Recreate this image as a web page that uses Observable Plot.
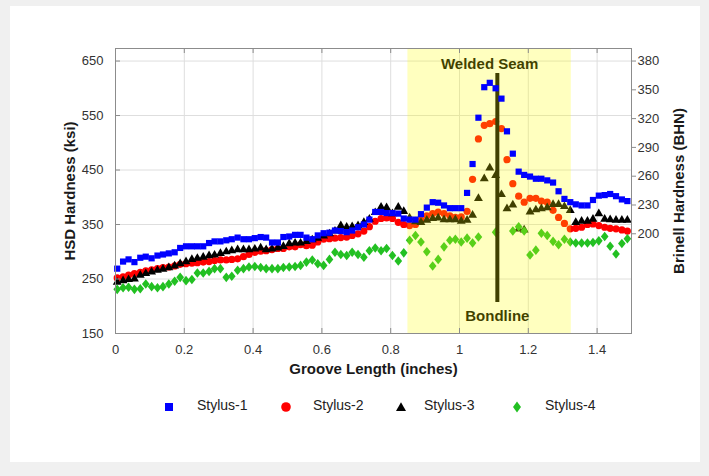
<!DOCTYPE html>
<html><head><meta charset="utf-8">
<script src="https://cdn.jsdelivr.net/npm/d3@7"></script>
<script src="https://cdn.jsdelivr.net/npm/@observablehq/plot@0.6"></script>
<style>
html,body{margin:0;padding:0;background:#f0f0f0;width:709px;height:476px;overflow:hidden;font-family:"Liberation Sans",Arial,sans-serif;}
#card{position:absolute;left:10px;top:6px;width:690px;height:456px;background:#fff;}
#chart{position:absolute;left:0;top:0;}
.leg{position:absolute;font-size:14px;color:#222;line-height:16px;white-space:nowrap;}
.sym{position:absolute;}
.ytitle{position:absolute;font-size:15px;font-weight:bold;color:#1a1a1a;white-space:nowrap;line-height:16px;transform:translate(-50%,-50%) rotate(-90deg);}
</style></head><body>
<div id="card"></div>
<div id="chart"></div>
<div id="legend"></div>
<div class="ytitle" id="yl"></div>
<div class="ytitle" id="yr"></div>
<script>
// Groove length positions (inches)
const xs = [0.005,0.022,0.038,0.055,0.072,0.088,0.105,0.122,0.138,0.155,0.172,0.188,0.205,0.222,0.238,0.255,0.272,0.288,
0.305,0.322,0.338,0.355,0.372,0.388,0.405,0.422,0.438,0.455,0.472,0.488,0.505,0.522,0.538,0.555,0.572,0.588,
0.605,0.622,0.638,0.655,0.672,0.688,0.705,0.722,0.738,0.755,0.772,0.788,0.805,0.822,0.838,0.855,0.872,
0.888,0.905,0.922,0.938,0.955,0.972,0.988,1.005,1.022,1.038,1.055,1.072,1.088,1.105,1.122,1.138,1.155,1.172,1.188,
1.205,1.222,1.238,1.255,1.272,1.288,1.305,1.322,1.338,1.355,1.372,1.388,1.405,1.422,1.438,1.455,1.472,1.488];

// HSD hardness (ksi)
const stylus1 = [269,282,286,281,289,291,288,293,295,297,299,307,310,310,310,310,316,319,
319,321,323,326,323,323,325,327,326,317,317,327,328,331,331,326,323,330,
334,335,339,338,336,339,345,350,359,373,373,371,371,370,361,359,359,
369,381,391,390,385,380,380,380,408,461,546,602,610,600,581,521,480,447,441,
438,434,434,431,427,411,397,391,387,385,385,395,403,404,406,402,396,393];
const stylus2 = [252,254,257,260,262,265,267,269,271,272,274,277,278,279,280,281,282,284,
285,285,286,287,291,295,299,301,302,304,306,306,309,309,313,311,312,318,
323,324,325,326,327,330,333,338,346,356,361,362,361,354,350,348,350,
358,366,370,373,370,366,363,364,374,433,507,532,535,539,526,469,425,402,391,
398,398,393,391,376,363,352,342,343,345,350,351,348,345,343,342,340,338];
const stylus3 = [244,247,249,250,257,260,263,266,268,271,274,278,282,286,288,290,293,294,
297,300,302,304,304,304,305,307,304,305,307,310,315,316,316,319,322,325,
329,333,338,348,345,346,348,354,360,372,382,381,370,382,374,362,355,
354,358,361,362,359,359,359,356,358,367,398,434,454,440,405,379,386,342,340,
373,377,379,381,387,387,383,376,354,356,356,360,370,360,359,358,358,358];
const stylus4 = [231,234,235,231,232,241,236,234,236,241,246,253,247,249,261,261,264,269,
269,253,255,266,269,272,273,271,269,269,269,271,272,273,275,281,285,278,
275,286,299,295,293,299,295,290,302,307,302,306,293,283,298,321,330,
318,300,274,286,309,321,323,318,325,316,327,null,null,336,null,null,338,346,338,
294,303,334,330,319,313,323,318,316,316,316,317,320,328,310,296,315,324];

const seriesNames = ["Stylus-1","Stylus-2","Stylus-3","Stylus-4"];
const seriesColors = ["#0000ff","#ff0000","#000000","#22c022"];

const xTicks = [0,0.2,0.4,0.6,0.8,1,1.2,1.4];
const yTicks = [150,250,350,450,550,650];
const bhnTicks = [200,230,260,290,320,350,380];
const xDomain = [0,1.5];
const yDomain = [150,673];

const titles = {x:"Groove Length (inches)", yLeft:"HSD Hardness (ksi)", yRight:"Brinell Hardness (BHN)"};

// Annotations
const weldBand = [{x1:0.85, x2:1.325, label:"Welded Seam"}];
const bondline = [{x:1.11, y1:207, y2:627, label:"Bondline"}];

// BHN <-> ksi mapping of the right axis
const bhnToKsi = b => 333 + (b - 200) * 317 / 180;
const ksiToBhn = k => 200 + (k - 333) * 180 / 317;

const rowsOf = vals => xs.map((x,i)=>({x, y: vals[i]})).filter(d => d.y != null);

const diamondSym = {draw(ctx, size){ const h = Math.sqrt(size)*0.75, w = h*0.8;
  ctx.moveTo(0,-h); ctx.lineTo(w,0); ctx.lineTo(0,h); ctx.lineTo(-w,0); ctx.closePath(); }};

const W = 709, H = 380, ML = 115, MR = 78, MT = 48, MB = 47;
const FH = H - MT - MB, FW = W - ML - MR;
const axisGray = "#8c8c8c", labelColor = "#333";

const chart = Plot.plot({
  width: W, height: H, marginLeft: ML, marginRight: MR, marginTop: MT, marginBottom: MB,
  x: {domain: xDomain},
  y: {domain: yDomain},
  style: {background: "transparent", fontFamily: "'Liberation Sans', Arial, sans-serif", fontSize: "13px", color: labelColor, overflow: "visible"},
  marks: [
    Plot.gridX(xTicks, {stroke: "#dedede", strokeOpacity: 1}),
    Plot.gridY(yTicks, {stroke: "#dedede", strokeOpacity: 1}),
    Plot.dot(rowsOf(stylus2), {x:"x", y:"y", r:3.6, symbol:"circle", fill: seriesColors[1]}),
    Plot.dot(rowsOf(stylus3), {x:"x", y:"y", r:3.3, symbol:"triangle", fill: seriesColors[2]}),
    Plot.dot(rowsOf(stylus4), {x:"x", y:"y", r:3.6, symbol: diamondSym, fill: seriesColors[3]}),
    Plot.ruleX(bondline, {x:"x", y1:"y1", y2:"y2", stroke:"#000", strokeWidth:4}),
    Plot.text(weldBand, {x: d => (d.x1+d.x2)/2, text:"label", frameAnchor:"top", dy: 10, fontWeight:"bold", fontSize:15, fill:"#000"}),
    Plot.text(bondline, {x:"x", text:"label", frameAnchor:"bottom", dy: -13, fontWeight:"bold", fontSize:15, fill:"#000"}),
    Plot.rect(weldBand, {x1:"x1", x2:"x2", fill:"#ffff00", fillOpacity:0.25}),
    Plot.dot(rowsOf(stylus1), {x:"x", y:"y", r:3.5, symbol:"square", fill: seriesColors[0]}),
    Plot.frame({stroke: axisGray}),
    Plot.ruleX(xTicks, {insetTop: FH - 5, stroke: axisGray}),
    Plot.ruleX(xTicks, {insetBottom: FH - 5, stroke: axisGray}),
    Plot.ruleY(yTicks, {insetRight: FW - 5, stroke: axisGray}),
    Plot.axisX(xTicks, {anchor:"bottom", tickSize:0, tickPadding:11, label:null, tickFormat: d => String(d), fill: labelColor}),
    Plot.axisY(yTicks, {anchor:"left", tickSize:0, tickPadding:12, label:null, fill: labelColor}),
    Plot.axisY(bhnTicks.map(bhnToKsi), {anchor:"right", tickSize:4, tickPadding:2, label:null, stroke: axisGray, fill: labelColor,
      tickFormat: d => String(Math.round(ksiToBhn(d)))}),
    Plot.text([titles.x], {frameAnchor:"bottom", dy:40, fontWeight:"bold", fontSize:15, fill:"#1a1a1a"})
  ]
});
document.getElementById("chart").appendChild(chart);

// Rotated y-axis titles
const yl = document.getElementById("yl"); yl.textContent = titles.yLeft; yl.style.left = "70px"; yl.style.top = "191px";
const yr = document.getElementById("yr"); yr.textContent = titles.yRight; yr.style.left = "679px"; yr.style.top = "191px";

// Legend
const legendX = [169, 286, 401, 517];
const legendTextX = [197, 313, 424, 545];
const legendY = 405;
const symSvg = [
  `<svg width="12" height="12"><rect x="2" y="2" width="8" height="8" fill="${seriesColors[0]}"/></svg>`,
  `<svg width="12" height="12"><circle cx="6" cy="6" r="4.8" fill="${seriesColors[1]}"/></svg>`,
  `<svg width="12" height="12"><path d="M6,1.2L11,10L1,10Z" fill="${seriesColors[2]}"/></svg>`,
  `<svg width="12" height="12"><path d="M6,0.5L10,6L6,11.5L2,6Z" fill="${seriesColors[3]}"/></svg>`
];
const leg = document.getElementById("legend");
seriesNames.forEach((n,i) => {
  const s = document.createElement("div"); s.className = "sym";
  s.style.left = (legendX[i]-6)+"px"; s.style.top = (legendY-6)+"px"; s.innerHTML = symSvg[i];
  leg.appendChild(s);
  const t = document.createElement("div"); t.className = "leg";
  t.style.left = legendTextX[i]+"px"; t.style.top = (legendY-8)+"px"; t.textContent = n;
  leg.appendChild(t);
});
</script></body></html>
